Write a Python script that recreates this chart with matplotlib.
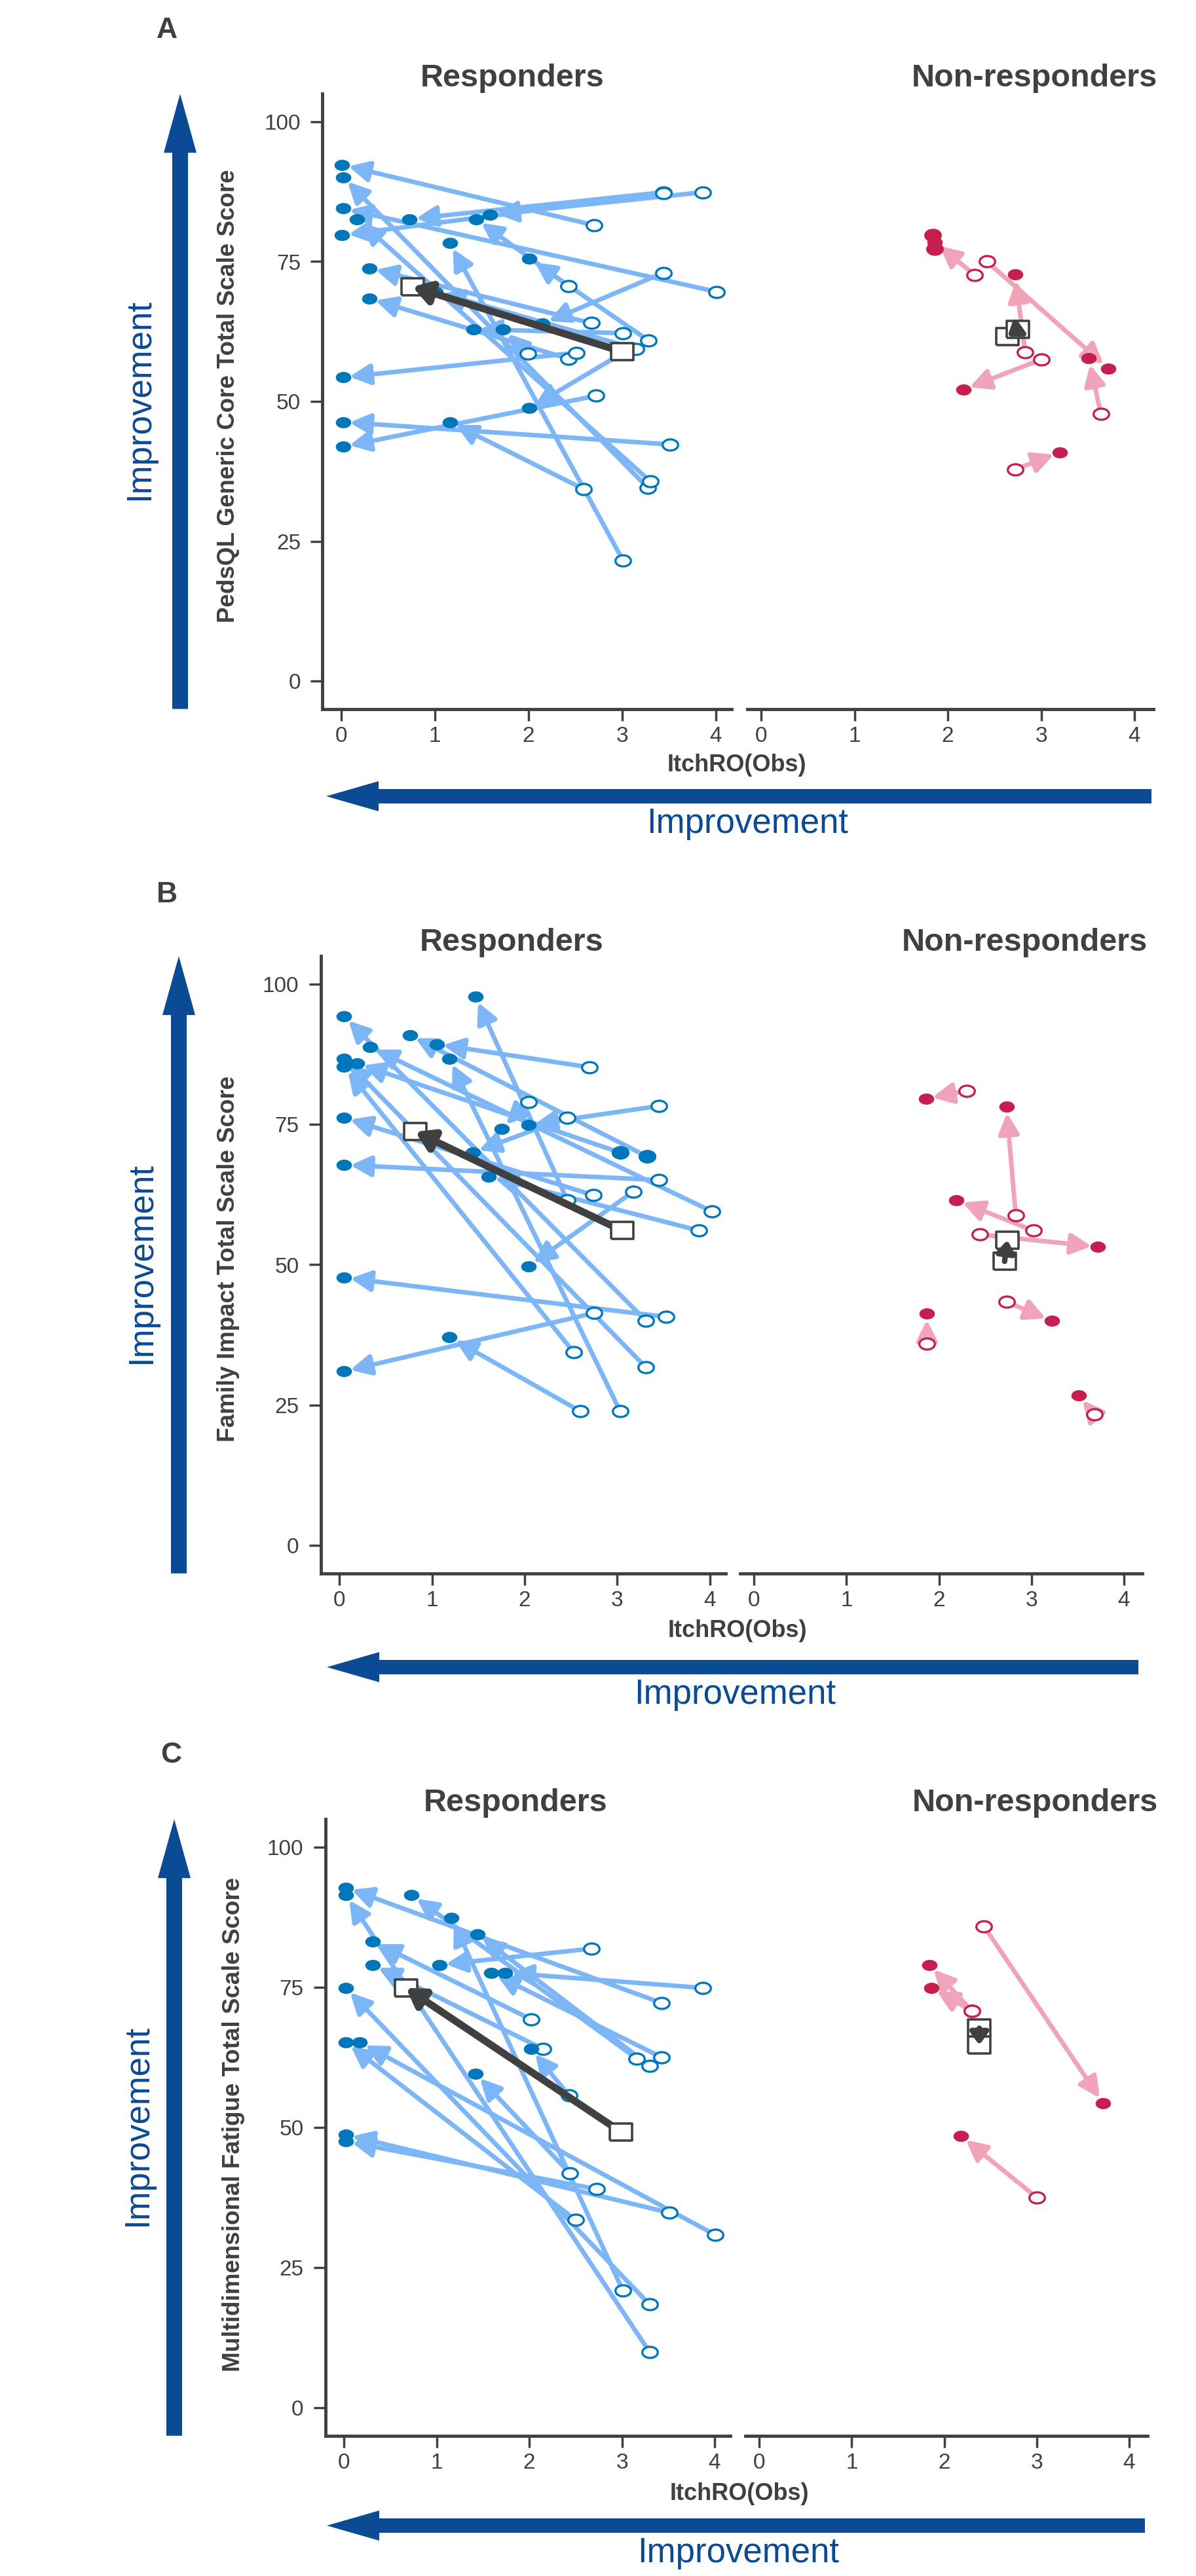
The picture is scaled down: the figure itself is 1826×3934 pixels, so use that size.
import numpy as np
import matplotlib
matplotlib.use("Agg")
import matplotlib.pyplot as plt
from matplotlib.patches import FancyArrowPatch, Polygon
from matplotlib.path import Path

plt.rcParams['font.family'] = ['Liberation Sans', 'DejaVu Sans']

# ItchRO(Obs) / score at baseline (open circle) and at follow-up (filled circle)

# A: PedsQL Generic Core Total Scale Score
a_resp_bx = [2.70, 3.27, 4.01, 3.30, 3.44, 3.44, 2.43, 3.86, 3.01, 3.28, 2.67,
             2.43, 3.15, 3.44, 3.01, 1.99, 2.51, 3.00, 3.51, 2.59, 2.72]
a_resp_by = [81.5, 34.6, 69.6, 35.7, 87.4, 87.2, 70.6, 87.4, 21.5, 60.9, 64.0,
             57.6, 59.4, 73.0, 62.2, 58.5, 58.7, 58.6, 42.3, 34.3, 51.0]
a_resp_ex = [0.01, 0.02, 0.02, 0.17, 0.73, 0.01, 1.44, 1.59, 1.16, 2.01, 0.30,
             0.30, 1.01, 2.15, 1.41, 1.73, 0.02, 2.01, 0.02, 1.16, 0.02]
a_resp_ey = [92.3, 90.1, 84.5, 82.6, 82.6, 79.7, 82.6, 83.4, 78.3, 75.5, 73.8,
             68.4, 69.6, 63.9, 62.9, 62.9, 54.3, 48.8, 46.3, 46.3, 41.9]
a_resp_mean = [(3.00, 58.9), (0.76, 70.5)]

a_non_bx = [2.29, 2.42, 2.83, 3.00, 3.64, 2.72, 1.84, 1.86]
a_non_by = [72.6, 75.0, 58.8, 57.5, 47.8, 37.8, 79.7, 77.3]
a_non_ex = [1.86, 3.72, 2.72, 2.17, 3.51, 3.20, 1.84, 1.86]
a_non_ey = [78.5, 55.9, 72.7, 52.1, 57.7, 40.9, 79.7, 77.3]
a_non_mean = [(2.75, 62.9), (2.64, 61.6)]

# B: Family Impact Total Scale Score
b_resp_bx = [2.46, 3.03, 3.31, 2.53, 3.31, 3.32, 2.46, 3.45, 2.70, 2.04, 4.02,
             3.03, 3.45, 2.74, 3.88, 3.17, 3.53, 2.75, 2.60, 3.03, 3.32]
b_resp_by = [61.5, 23.9, 40.0, 34.4, 31.7, 69.3, 76.2, 78.3, 85.2, 79.0, 59.5,
             70.0, 65.1, 62.4, 56.1, 63.0, 40.7, 41.4, 23.9, 70.0, 69.3]
b_resp_ex = [1.47, 1.19, 0.05, 0.05, 0.05, 0.76, 1.44, 2.04, 1.05, 1.75, 0.33,
             0.19, 0.05, 0.05, 1.61, 2.04, 0.05, 0.05, 1.19, 3.03, 3.32]
b_resp_ey = [97.8, 86.7, 94.3, 85.3, 86.7, 90.9, 70.0, 74.9, 89.3, 74.2, 88.8,
             85.9, 67.8, 76.2, 65.7, 49.7, 47.7, 31.0, 37.1, 70.0, 69.3]
b_resp_mean = [(3.05, 56.1), (0.82, 73.7)]

b_non_bx = [2.30, 2.83, 3.02, 2.44, 2.73, 1.87, 3.68]
b_non_by = [81.0, 58.8, 56.1, 55.4, 43.4, 35.9, 23.3]
b_non_ex = [1.86, 2.73, 2.19, 3.72, 3.22, 1.87, 3.51]
b_non_ey = [79.6, 78.2, 61.5, 53.2, 40.0, 41.3, 26.7]
b_non_mean = [(2.71, 50.6), (2.74, 54.4)]

# C: Multidimensional Fatigue Total Scale Score
c_resp_bx = [3.43, 3.30, 3.16, 3.01, 3.30, 2.02, 2.15, 2.67, 3.43, 3.87, 3.30,
             2.50, 4.01, 2.43, 2.44, 3.51, 2.73]
c_resp_by = [72.2, 9.9, 62.3, 20.9, 61.0, 69.3, 64.0, 81.9, 62.5, 74.9, 18.4,
             33.5, 30.8, 55.7, 41.8, 34.8, 39.0]
c_resp_ex = [0.02, 0.02, 0.73, 1.16, 1.44, 0.31, 0.31, 1.03, 1.59, 1.74, 0.02,
             0.02, 0.17, 2.02, 1.42, 0.02, 0.02]
c_resp_ey = [92.8, 91.5, 91.5, 87.4, 84.5, 83.2, 79.0, 79.0, 77.6, 77.6, 74.9,
             65.2, 65.2, 64.0, 59.6, 48.7, 47.5]
c_resp_mean = [(2.99, 49.2), (0.67, 74.9)]

c_non_bx = [2.43, 2.30, 2.30, 3.00]
c_non_by = [85.9, 70.8, 70.8, 37.5]
c_non_ex = [3.72, 1.84, 1.86, 2.18]
c_non_ey = [54.3, 79.0, 74.9, 48.5]
c_non_mean = [(2.38, 67.7), (2.38, 64.7)]

ylabels = ["PedsQL Generic Core Total Scale Score",
           "Family Impact Total Scale Score",
           "Multidimensional Fatigue Total Scale Score"]
letters = ["A", "B", "C"]

resp_dot = '#0077BB'
resp_line = '#7DB6F7'
non_dot = '#C61F4F'
non_line = '#F0A3B9'
mean_col = '#404040'
improve_col = '#0B4A94'
text_col = '#404040'

W, H = 1826, 3934
fig = plt.figure(figsize=(W / 100, H / 100), dpi=100)

t = np.linspace(0, 2 * np.pi, 60)
ellipse = Path(np.column_stack([np.cos(t), 0.72 * np.sin(t)]))
rect = Path([(-1, -0.8), (1, -0.8), (1, 0.8), (-1, 0.8), (-1, -0.8)])


def add_axes_px(x0, x4, y100, y0, xlim):
    u = (x4 - x0) / 4.0
    v = (y0 - y100) / 100.0
    left = x0 + xlim[0] * u
    right = x0 + xlim[1] * u
    top = y100 - 5 * v
    bottom = y0 + 5 * v
    ax = fig.add_axes([left / W, 1 - bottom / H, (right - left) / W, (bottom - top) / H])
    ax.set_xlim(xlim)
    ax.set_ylim(-5, 105)
    for s in ['top', 'right']:
        ax.spines[s].set_visible(False)
    for s in ['left', 'bottom']:
        ax.spines[s].set_linewidth(3.5)
        ax.spines[s].set_color(mean_col)
    ax.set_xticks([0, 1, 2, 3, 4])
    ax.set_yticks([0, 25, 50, 75, 100])
    ax.tick_params(axis='both', length=13, width=2.5, color=mean_col,
                   labelsize=24, labelcolor=text_col)
    ax.tick_params(axis='y', pad=11)
    ax.tick_params(axis='x', pad=6)
    return ax, (left, right, top, bottom)


def draw_group(ax, bx, by, ex, ey, dot_c, line_c):
    for x0, y0, x1, y1 in zip(bx, by, ex, ey):
        if x0 == x1 and y0 == y1:
            continue
        ax.add_patch(FancyArrowPatch((x0, y0), (x1, y1),
                                     arrowstyle='-|>,head_length=19,head_width=9.5',
                                     mutation_scale=1, lw=5, color=line_c,
                                     shrinkA=0, shrinkB=7, zorder=2))
    ax.plot(bx, by, ls='none', marker=ellipse, ms=17, mfc='white', mec=dot_c,
            mew=2.4, zorder=3)
    ax.plot(ex, ey, ls='none', marker=ellipse, ms=17, mfc=dot_c, mec=dot_c,
            mew=0, zorder=4)


def draw_mean(ax, mean, short=False):
    (x0, y0), (x1, y1) = mean
    ax.plot([x1], [y1], ls='none', marker=rect, ms=24, mfc='white', mec=mean_col,
            mew=2.6, zorder=5)
    if short:
        style = '-|>,head_length=11,head_width=8'
        lw, zo = 6, 8
    else:
        style = '-|>,head_length=16,head_width=10'
        lw, zo = 8, 6
    ax.add_patch(FancyArrowPatch((x0, y0), (x1, y1), arrowstyle=style,
                                 mutation_scale=1, lw=lw, color=mean_col,
                                 shrinkA=0, shrinkB=0, zorder=zo))
    ax.plot([x0], [y0], ls='none', marker=rect, ms=24, mfc='white', mec=mean_col,
            mew=2.6, zorder=7)


def fig_poly(pts, color):
    verts = [(x / W, 1 - y / H) for x, y in pts]
    fig.add_artist(Polygon(verts, closed=True, transform=fig.transFigure,
                           facecolor=color, edgecolor='none'))


def up_arrow(cx, tip, bottom):
    s, h, L = 12, 25, 90
    fig_poly([(cx - s, bottom), (cx - s, tip + L), (cx - h, tip + L), (cx, tip),
              (cx + h, tip + L), (cx + s, tip + L), (cx + s, bottom)], improve_col)


def left_arrow(cy, tip, right):
    s, h, L = 11, 23, 80
    fig_poly([(right, cy - s), (tip + L, cy - s), (tip + L, cy - h), (tip, cy),
              (tip + L, cy + h), (tip + L, cy + s), (right, cy + s)], improve_col)


def ftext(x, y, s, **kw):
    fig.text(x / W, 1 - y / H, s, **kw)


panels = [
    dict(resp=(521, 1093), non=(1162, 1732), y=(186, 1040),
         r=(a_resp_bx, a_resp_by, a_resp_ex, a_resp_ey), rm=a_resp_mean,
         n=(a_non_bx, a_non_by, a_non_ex, a_non_ey), nm=a_non_mean,
         title_y=120, letter=(255, 47), ylab=(349, 605), xlab=(1125, 1168),
         varrow=275, vtext=213, harrow=(1216, 498, 1758), htext=(1141, 1258),
         rt_x=782, nt_x=1579),
    dict(resp=(518, 1084), non=(1151, 1716), y=(1503, 2360),
         r=(b_resp_bx, b_resp_by, b_resp_ex, b_resp_ey), rm=b_resp_mean,
         n=(b_non_bx, b_non_by, b_non_ex, b_non_ey), nm=b_non_mean,
         title_y=1440, letter=(255, 1367), ylab=(349, 1922), xlab=(1126, 2491),
         varrow=273, vtext=216, harrow=(2546, 499, 1738), htext=(1122, 2588),
         rt_x=781, nt_x=1564),
    dict(resp=(525, 1091), non=(1159, 1724), y=(2821, 3677),
         r=(c_resp_bx, c_resp_by, c_resp_ex, c_resp_ey), rm=c_resp_mean,
         n=(c_non_bx, c_non_by, c_non_ex, c_non_ey), nm=c_non_mean,
         title_y=2754, letter=(261, 2681), ylab=(356, 3245), xlab=(1129, 3808),
         varrow=266, vtext=210, harrow=(3857, 499, 1748), htext=(1127, 3899),
         rt_x=787, nt_x=1580),
]

for i, p in enumerate(panels):
    ax_r, box_r = add_axes_px(p['resp'][0], p['resp'][1], p['y'][0], p['y'][1], (-0.2, 4.17))
    ax_n, box_n = add_axes_px(p['non'][0], p['non'][1], p['y'][0], p['y'][1], (-0.15, 4.2))
    ax_n.spines['left'].set_visible(False)
    ax_n.tick_params(axis='y', left=False, labelleft=False)

    draw_group(ax_r, *p['r'], resp_dot, resp_line)
    draw_mean(ax_r, p['rm'])
    draw_group(ax_n, *p['n'], non_dot, non_line)
    draw_mean(ax_n, p['nm'], short=True)

    ftext(p['rt_x'], p['title_y'], "Responders", fontsize=35, fontweight='bold',
          color=text_col, ha='center', va='center')
    ftext(p['nt_x'], p['title_y'], "Non-responders", fontsize=35, fontweight='bold',
          color=text_col, ha='center', va='center')
    ftext(p['letter'][0], p['letter'][1], letters[i], fontsize=32, fontweight='bold',
          color=text_col, ha='center', va='center')
    ftext(p['ylab'][0], p['ylab'][1], ylabels[i], fontsize=26.5, fontweight='bold',
          color=text_col, ha='center', va='center', rotation=90)
    ftext(p['xlab'][0], p['xlab'][1], "ItchRO(Obs)", fontsize=26, fontweight='bold',
          color=text_col, ha='center', va='center')

    top, bottom = box_r[2], box_r[3]
    up_arrow(p['varrow'], top, bottom)
    ftext(p['vtext'], (top + bottom) / 2 - 3, "Improvement", fontsize=38,
          color=improve_col, ha='center', va='center', rotation=90)
    cy, tip, right = p['harrow']
    left_arrow(cy, tip, right)
    ftext(p['htext'][0], p['htext'][1], "Improvement", fontsize=38,
          color=improve_col, ha='center', va='center')

fig.savefig("out.png", dpi=100, facecolor='white')
